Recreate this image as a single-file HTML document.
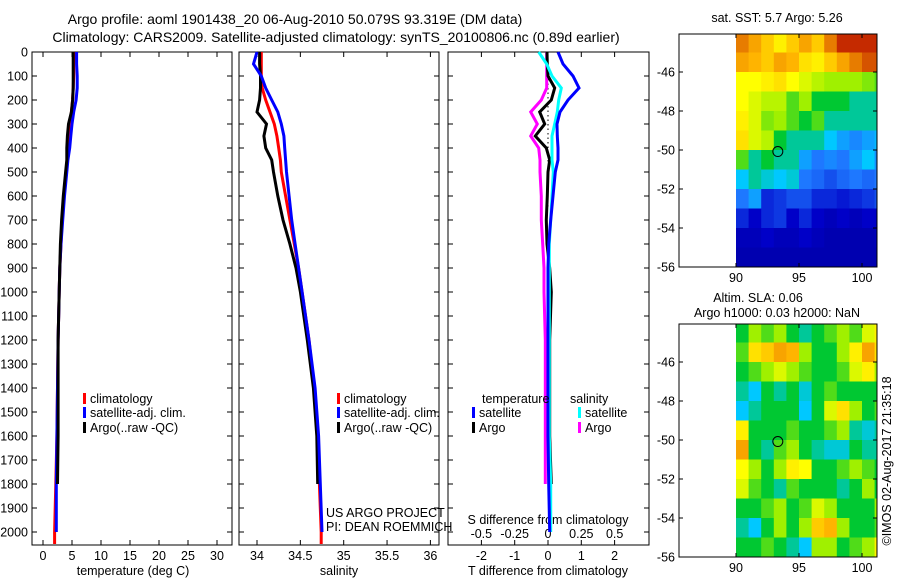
<!DOCTYPE html>
<html><head><meta charset="utf-8"><style>
body{margin:0;background:#fff;width:900px;height:580px;overflow:hidden}
svg{font-family:"Liberation Sans",sans-serif;font-size:12.5px}
</style></head><body>
<svg id="s" width="900" height="580" xmlns="http://www.w3.org/2000/svg">
<text x="295" y="24" text-anchor="middle" font-size="14">Argo profile: aoml 1901438_20 06-Aug-2010 50.079S 93.319E (DM data)</text>
<text x="336" y="42" text-anchor="middle" font-size="14">Climatology: CARS2009. Satellite-adjusted climatology: synTS_20100806.nc (0.89d earlier)</text>
<text x="777" y="22" text-anchor="middle">sat. SST: 5.7 Argo: 5.26</text>
<text x="758" y="302" text-anchor="middle">Altim. SLA: 0.06</text>
<text x="777" y="317" text-anchor="middle">Argo h1000: 0.03 h2000: NaN</text>
<text transform="translate(891,461) rotate(-90)" text-anchor="middle">©IMOS 02-Aug-2017 21:35:18</text>
<text x="326" y="517">US ARGO PROJECT</text>
<text x="326" y="531">PI: DEAN ROEMMICH</text>
</svg>
<script>
const depths=[0,50,100,150,200,250,300,350,400,450,500,600,700,800,900,1000,1200,1400,1600,1800,2000,2050];
const tempClim=[5.4,5.3,5.3,5.2,5.1,4.9,4.8,4.6,4.4,4.2,4.0,3.6,3.3,3.1,2.9,2.8,2.6,2.5,2.4,2.2,2.0,2.0];
const tempSat=[5.8,5.8,5.9,5.9,5.7,5.3,5.0,4.8,4.6,4.3,4.1,3.7,3.4,3.1,2.9,2.8,2.6,2.5,2.4,2.3,2.3];
const tempArgo=[5.2,5.2,5.2,5.2,5.1,4.9,4.4,4.2,4.1,4.1,3.9,3.5,3.2,3.0,2.9,2.8,2.6,2.6,2.6,2.5];
const salClim=[34.05,34.05,34.05,34.06,34.1,34.15,34.2,34.23,34.25,34.27,34.28,34.33,34.38,34.43,34.48,34.52,34.6,34.66,34.7,34.72,34.74,34.74];
const salSat=[34.0,33.96,34.05,34.1,34.17,34.24,34.28,34.31,34.32,34.33,34.34,34.37,34.4,34.44,34.48,34.52,34.6,34.67,34.71,34.73,34.75];
const salArgo=[34.03,34.03,34.04,34.04,34.03,34.0,34.11,34.08,34.1,34.17,34.19,34.24,34.3,34.38,34.45,34.5,34.58,34.65,34.69,34.70];
const dTSat=[0.3,0.45,0.75,0.93,0.6,0.36,0.27,0.28,0.3,0.3,0.22,0.15,0.08,0.02,0,0,0,0,0,0.02,0.05];
const dTArgo=[-0.03,-0.02,0,0.2,0.1,-0.25,-0.1,-0.38,-0.05,0.05,0,-0.02,-0.05,-0.03,0.05,0.1,0.05,0.05,0.05,0.1];
const dSSat=[-0.07,-0.01,0.03,0.1,0.08,0.07,0.05,0.03,0.03,0.03,0.04,0.03,0.02,0.01,0.01,0.01,0.01,0.01,0.01,0.02,0.02];
const dSArgo=[-0.01,-0.01,-0.01,-0.01,-0.05,-0.13,-0.08,-0.13,-0.07,-0.06,-0.06,-0.05,-0.05,-0.04,-0.03,-0.03,-0.02,-0.02,-0.02,-0.02];
const depthTicks=[0,100,200,300,400,500,600,700,800,900,1000,1100,1200,1300,1400,1500,1600,1700,1800,1900,2000];
const tempTicks=[0,5,10,15,20,25,30];
const salTicks=[34,34.5,35,35.5,36];
const salTickLabels=["34","34.5","35","35.5","36"];
const dTTicks=[-2,-1,0,1,2];
const dSTicks=[-0.5,-0.25,0,0.25,0.5];
const dSTickLabels=["-0.5","-0.25","0","0.25","0.5"];
const latTicks=[-46,-48,-50,-52,-54,-56];
const lonTicks=[90,95,100];
const sstGrid=[
[0.85,0.8,0.75,0.7,0.75,0.8,0.75,0.85,0.95,0.95,0.95,0.95],
[0.8,0.78,0.75,0.8,0.78,0.72,0.7,0.75,0.8,0.85,0.9,0.9],
[0.68,0.68,0.7,0.72,0.68,0.65,0.62,0.6,0.6,0.6,0.58,0.55],
[0.68,0.65,0.62,0.62,0.55,0.6,0.5,0.5,0.5,0.45,0.45,0.45],
[0.7,0.65,0.58,0.6,0.55,0.5,0.55,0.45,0.45,0.45,0.45,0.45],
[0.72,0.65,0.62,0.5,0.45,0.45,0.45,0.4,0.35,0.32,0.35,0.38],
[0.55,0.45,0.5,0.45,0.45,0.35,0.3,0.32,0.3,0.35,0.4,0.33],
[0.4,0.45,0.42,0.4,0.42,0.3,0.28,0.25,0.28,0.3,0.28,0.3],
[0.3,0.35,0.2,0.22,0.25,0.25,0.2,0.2,0.18,0.2,0.22,0.25],
[0.2,0.15,0.2,0.22,0.15,0.2,0.15,0.12,0.15,0.12,0.15,0.15],
[0.12,0.12,0.15,0.12,0.12,0.15,0.12,0.1,0.1,0.1,0.1,0.12],
[0.1,0.1,0.1,0.1,0.1,0.1,0.1,0.1,0.1,0.1,0.1,0.1]];
const slaGrid=[
[0.5,0.6,0.55,0.6,0.5,0.45,0.5,0.55,0.6,0.55,0.65,0.7],
[0.55,0.72,0.75,0.8,0.78,0.6,0.5,0.5,0.6,0.7,0.8,0.72],
[0.5,0.55,0.6,0.65,0.6,0.55,0.5,0.5,0.55,0.65,0.7,0.6],
[0.45,0.4,0.5,0.45,0.5,0.42,0.5,0.55,0.5,0.5,0.5,0.5],
[0.4,0.45,0.5,0.5,0.5,0.4,0.5,0.65,0.72,0.6,0.5,0.55],
[0.7,0.5,0.5,0.5,0.55,0.5,0.5,0.55,0.6,0.45,0.42,0.45],
[0.8,0.5,0.45,0.55,0.6,0.5,0.45,0.42,0.42,0.5,0.45,0.45],
[0.68,0.6,0.5,0.6,0.7,0.68,0.5,0.5,0.55,0.6,0.55,0.5],
[0.65,0.55,0.5,0.45,0.55,0.5,0.5,0.5,0.45,0.5,0.6,0.5],
[0.5,0.5,0.55,0.6,0.5,0.55,0.65,0.6,0.5,0.5,0.5,0.6],
[0.45,0.4,0.5,0.6,0.5,0.6,0.75,0.78,0.6,0.5,0.5,0.55],
[0.5,0.5,0.55,0.5,0.45,0.4,0.6,0.6,0.5,0.55,0.6,0.7]];
const floatLon=93.319, floatLat=-50.079;

const S=document.getElementById('s');const NS='http://www.w3.org/2000/svg';
function mk(tag,at,parent){const e=document.createElementNS(NS,tag);for(const k in at)e.setAttribute(k,at[k]);(parent||S).appendChild(e);return e;}
const yD=d=>52+0.24*d;
const PB=545;
const panels=[{x0:32,x1:232,sx:v=>43+5.8*v,name:'temperature-panel'},{x0:239,x1:439,sx:v=>257+86.7*(v-34),name:'salinity-panel'},{x0:448,x1:649,sx:v=>548+33.3*v,name:'difference-panel'}];
panels.forEach((p,i)=>{
 const g=mk('g',{});
 
 
 const r=mk('rect',{x:p.x0,y:52,width:p.x1-p.x0,height:PB-52,fill:'none',stroke:'#000','stroke-width':1},g);
 
 
 depthTicks.forEach(d=>{
  const t=mk('path',{d:`M${p.x0} ${yD(d)}h5M${p.x1} ${yD(d)}h-5`,stroke:'#000'},g);
  
  
 });
});
depthTicks.forEach(d=>{
 const t=mk('text',{x:28,y:yD(d)+4.5,'text-anchor':'end'});t.textContent=d;
 
 
});
function xTicks(p,vals,labels,ly){
 vals.forEach((v,i)=>{
  const x=p.sx(v);
  const t=mk('path',{d:`M${x} 52v5M${x} ${PB}v-5`,stroke:'#000'});
  
  
  const l=mk('text',{x:x,y:ly,'text-anchor':'middle'});l.textContent=labels?labels[i]:v;
  
  
 });
}
xTicks(panels[0],tempTicks,null,560);
xTicks(panels[1],salTicks,salTickLabels,560);
xTicks(panels[2],dTTicks,null,560);
const sS=v=>548+133.3*v;
dSTicks.forEach((v,i)=>{const l=mk('text',{x:sS(v),y:538,'text-anchor':'middle'});l.textContent=dSTickLabels[i];
 
 });
function lbl(x,y,txt,name){const t=mk('text',{x:x,y:y,'text-anchor':'middle'});t.textContent=txt;
 
 }
lbl(133,575,'temperature (deg C)','temperature-axis-title');
lbl(339,575,'salinity','salinity-axis-title');
lbl(548,575,'T difference from climatology','t-diff-axis-title');
lbl(548,524,'S difference from climatology','s-diff-axis-title');
const z=mk('line',{x1:548,x2:548,y1:yD(0),y2:yD(650),stroke:'#000','stroke-dasharray':'1.5 3'});


function line(vals,sx,color,name){
 let d='';vals.forEach((v,i)=>{if(v==null)return;const x=sx(v),y=yD(depths[i]);d+=(d?'L':'M')+x.toFixed(1)+' '+y.toFixed(1);});
 const e=mk('path',{d:d,fill:'none',stroke:color,'stroke-width':3,'stroke-linejoin':'miter'});
 
 
}
line(tempClim,panels[0].sx,'#f00','temp-climatology-line');
line(tempSat,panels[0].sx,'#00f','temp-satellite-line');
line(tempArgo,panels[0].sx,'#000','temp-argo-line');
line(salClim,panels[1].sx,'#f00','sal-climatology-line');
line(salArgo,panels[1].sx,'#000','sal-argo-line');
line(salSat,panels[1].sx,'#00f','sal-satellite-line');
line(dSArgo,sS,'#f0f','sdiff-argo-line');
line(dTArgo,panels[2].sx,'#000','tdiff-argo-line');
line(dSSat,sS,'#0ff','sdiff-satellite-line');
line(dTSat,panels[2].sx,'#00f','tdiff-satellite-line');
function leg(x,y,color,txt){
 const g=mk('g',{});
 
 
 if(color)mk('rect',{x:x,y:y-10,width:3,height:11,fill:color},g);
 const t=mk('text',{x:x+7,y:y},g);t.textContent=txt;
}
leg(83,403,'#f00','climatology');leg(83,417,'#00f','satellite-adj. clim.');leg(83,432,'#000','Argo(..raw -QC)');
leg(337,403,'#f00','climatology');leg(337,417,'#00f','satellite-adj. clim.');leg(337,432,'#000','Argo(..raw -QC)');
leg(475,403,null,'temperature');leg(472,417,'#00f','satellite');leg(472,432,'#000','Argo');
leg(563,403,null,'salinity');leg(578,417,'#0ff','satellite');leg(578,432,'#f0f','Argo');
const stops=[[0,[0,0,128]],[0.15,[0,0,200]],[0.3,[30,120,255]],[0.4,[0,200,255]],[0.5,[0,200,50]],[0.6,[160,240,0]],[0.68,[255,255,0]],[0.78,[255,180,0]],[0.88,[220,100,0]],[1,[180,0,0]]];
function cmap(v){for(let i=1;i<stops.length;i++){if(v<=stops[i][0]){const a=stops[i-1],b=stops[i],f=(v-a[0])/(b[0]-a[0]);return 'rgb('+a[1].map((c,k)=>Math.round(c+f*(b[1][k]-c))).join(',')+')';}}return 'rgb(180,0,0)';}
function map(top,grid,name){
 const L=679,R=877,B=top+233;
 const lx=v=>736+12.6*(v-90), ly=v=>top+38+19.5*(-46-v);
 const g=mk('g',{});
 
 
 grid.forEach((row,r)=>row.forEach((v,c)=>{
  const x0=lx(90+c),y0=ly(-44-r);
  const w=Math.min(lx(91+c),R)-x0, h=Math.min(ly(-45-r),B)-Math.max(y0,top);
  if(w<=0||h<=0)return;
  const e=mk('rect',{x:x0,y:Math.max(y0,top),width:w+0.5,height:h+0.5,fill:cmap(v)},g);
  
  
 }));
 mk('rect',{x:L,y:top,width:R-L,height:B-top,fill:'none',stroke:'#000'},g);
 latTicks.forEach(v=>{const y=ly(v);mk('path',{d:`M${L} ${y}h4M${R} ${y}h-4`,stroke:'#000'},g);
  const t=mk('text',{x:675,y:y+4.5,'text-anchor':'end'},g);t.textContent=v;
  
  });
 lonTicks.forEach(v=>{const x=lx(v);mk('path',{d:`M${x} ${top}v4M${x} ${B}v-4`,stroke:'#000'},g);
  const t=mk('text',{x:x,y:B+15,'text-anchor':'middle'},g);t.textContent=v;
  
  });
 const c=mk('circle',{cx:lx(floatLon),cy:ly(floatLat),r:5,fill:'none',stroke:'#000'},g);
 
 
}
map(34,sstGrid,'sst-map');
map(324,slaGrid,'sla-map');
</script>
</body></html>
